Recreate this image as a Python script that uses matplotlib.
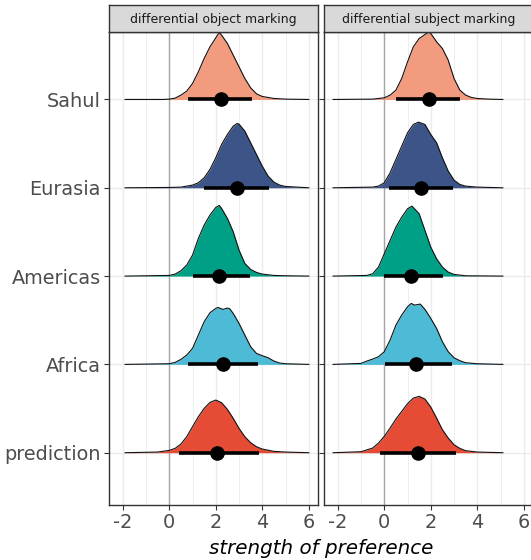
import matplotlib
matplotlib.use("Agg")
import matplotlib.pyplot as plt

regions = ["prediction", "Africa", "Americas", "Eurasia", "Sahul"]
colors = ["#E64B35", "#4DBBD5", "#00A087", "#3C5488", "#F39B7F"]
facets = ["differential object marking", "differential subject marking"]
xticks = [-2, 0, 2, 4, 6]

# density heights (arbitrary units), per facet and region
# differential object marking
dom_x = {
    "Sahul": [-1.9, -0.25, 0, 0.25, 0.5, 0.75, 1.0, 1.25, 1.5, 1.75, 2.0, 2.15, 2.25, 2.5, 2.75, 3.0, 3.25, 3.5, 3.75, 4.0, 4.5, 5.0, 6.0],
    "Eurasia": [-1.9, 0, 0.5, 1.0, 1.25, 1.5, 1.75, 2.0, 2.25, 2.5, 2.75, 2.92, 3.0, 3.25, 3.5, 3.75, 4.0, 4.25, 4.5, 4.75, 5.0, 6.0],
    "Americas": [-1.9, 0, 0.25, 0.5, 0.75, 1.0, 1.25, 1.5, 1.75, 2.0, 2.15, 2.25, 2.5, 2.75, 3.0, 3.25, 3.5, 3.75, 4.0, 4.5, 5.0, 6.0],
    "Africa": [-1.9, 0, 0.25, 0.5, 0.75, 1.0, 1.25, 1.5, 1.75, 2.0, 2.1, 2.3, 2.5, 2.6, 2.75, 3.0, 3.25, 3.5, 3.75, 4.0, 4.25, 4.5, 4.75, 5.0, 6.0],
    "prediction": [-1.9, -0.5, 0, 0.25, 0.5, 0.75, 1.0, 1.25, 1.5, 1.75, 2.0, 2.25, 2.5, 2.75, 3.0, 3.25, 3.5, 3.75, 4.0, 4.5, 5.0, 6.0],
}
dom_d = {
    "Sahul": [0, 0, 1, 4, 13, 25, 48, 83, 123, 158, 185, 201, 193, 168, 133, 98, 63, 35, 17, 9, 3, 1, 0],
    "Eurasia": [0, 1, 2, 8, 15, 30, 55, 90, 130, 160, 185, 193, 191, 170, 135, 100, 65, 35, 17, 8, 4, 0],
    "Americas": [0, 2, 6, 16, 33, 63, 113, 153, 183, 206, 212, 203, 173, 133, 78, 38, 20, 11, 6, 2, 1, 0],
    "Africa": [0, 2, 6, 15, 28, 48, 88, 128, 155, 168, 171, 165, 169, 167, 153, 123, 88, 53, 33, 26, 20, 10, 4, 2, 0],
    "prediction": [0, 2, 7, 13, 26, 48, 78, 108, 133, 151, 158, 150, 130, 103, 73, 48, 30, 18, 11, 4, 2, 0],
}
# differential subject marking
dsm_x = {
    "Sahul": [-2.2, -0.5, 0, 0.25, 0.5, 0.75, 1.0, 1.25, 1.5, 1.75, 1.93, 2.0, 2.25, 2.5, 2.75, 3.0, 3.25, 3.5, 3.75, 4.0, 4.5, 5.1],
    "Eurasia": [-2.2, -0.5, -0.25, 0, 0.25, 0.5, 0.75, 1.0, 1.25, 1.47, 1.75, 2.0, 2.25, 2.5, 2.75, 3.0, 3.25, 3.5, 4.0, 5.1],
    "Americas": [-2.2, -0.75, -0.5, -0.25, 0, 0.25, 0.5, 0.75, 1.0, 1.19, 1.5, 1.75, 2.0, 2.25, 2.5, 2.75, 3.0, 3.5, 5.1],
    "Africa": [-2.2, -1.0, -0.75, -0.5, -0.25, 0, 0.25, 0.5, 0.75, 1.0, 1.16, 1.3, 1.55, 1.75, 2.0, 2.25, 2.5, 2.75, 3.0, 3.25, 3.5, 4.0, 5.1],
    "prediction": [-2.2, -1.0, -0.5, -0.25, 0, 0.25, 0.5, 0.75, 1.0, 1.25, 1.5, 1.75, 2.0, 2.25, 2.5, 2.75, 3.0, 3.25, 3.5, 4.0, 5.1],
}
dsm_d = {
    "Sahul": [0, 1, 5, 13, 28, 63, 113, 158, 183, 195, 203, 198, 173, 153, 118, 63, 28, 13, 6, 3, 1, 0],
    "Eurasia": [0, 2, 5, 15, 45, 85, 125, 165, 190, 197, 190, 160, 135, 90, 50, 23, 10, 5, 2, 0],
    "Americas": [0, 2, 7, 27, 67, 107, 147, 177, 202, 210, 187, 137, 87, 52, 27, 12, 5, 1, 0],
    "Africa": [0, 3, 10, 16, 23, 38, 73, 118, 148, 173, 183, 178, 181, 165, 138, 108, 68, 38, 20, 11, 5, 2, 0],
    "prediction": [0, 3, 14, 29, 49, 74, 101, 124, 147, 164, 169, 161, 137, 104, 69, 44, 24, 13, 6, 2, 0],
}

# point estimate and interval, order as in regions
dom_point = [2.06, 2.29, 2.12, 2.92, 2.22]
dom_lo = [0.43, 0.82, 1.03, 1.50, 0.79]
dom_hi = [3.86, 3.80, 3.47, 4.30, 3.57]
dsm_point = [1.44, 1.37, 1.16, 1.57, 1.92]
dsm_lo = [-0.20, 0.04, 0.00, 0.21, 0.52]
dsm_hi = [3.09, 2.90, 2.52, 2.97, 3.27]

SCALE = 1 / 265.0
W, H = 531, 560
fig = plt.figure(figsize=(W / 100, H / 100), dpi=100)

ax_l = 109.3
ax_w = 209.0
ax_top = 32
ax_bot = 505
lefts = [ax_l, 324.3]
panels = [(dom_x, dom_d, dom_point, dom_lo, dom_hi), (dsm_x, dsm_d, dsm_point, dsm_lo, dsm_hi)]

for k, (xs, ds, pt, lo, hi) in enumerate(panels):
    ax = fig.add_axes([lefts[k] / W, 1 - ax_bot / H, ax_w / W, (ax_bot - ax_top) / H])
    ax.set_xlim(-2.58, 6.41)
    ax.set_ylim(0.408, 5.764)
    for g in [-2, 0, 2, 4, 6]:
        ax.axvline(g, color="#EBEBEB", lw=1.0, zorder=0)
    for g in [-1, 1, 3, 5]:
        ax.axvline(g, color="#EBEBEB", lw=0.6, zorder=0)
    for i in range(len(regions)):
        ax.axhline(i + 1, color="#EBEBEB", lw=1.0, zorder=0)
    ax.axvline(0, color="#A6A6A6", lw=1.0, zorder=0.5)
    for i, r in enumerate(regions):
        base = i + 1
        top = [base + d * SCALE for d in ds[r]]
        ax.fill_between(xs[r], base, top, color=colors[i], lw=0, zorder=2 + i * 0.1)
        ax.plot(xs[r], top, color="#111111", lw=0.8, zorder=2.05 + i * 0.1)
        ax.plot([lo[i], hi[i]], [base, base], color="black", lw=2.6,
                solid_capstyle="butt", zorder=3)
        ax.plot([pt[i]], [base], "o", color="black", ms=9.5, zorder=3.5)
    ax.set_xticks(xticks)
    ax.set_xticklabels([str(t) for t in xticks])
    ax.set_yticks(range(1, len(regions) + 1))
    if k == 0:
        ax.set_yticklabels(regions)
    else:
        ax.set_yticklabels([])
        ax.tick_params(axis="y", length=0)
    ax.tick_params(labelsize=13.9, labelcolor="#4D4D4D", color="#333333",
                   length=3.5, width=0.8, pad=2.5)
    for s in ax.spines.values():
        s.set_color("#333333")
        s.set_linewidth(1.0)

    st = fig.add_axes([lefts[k] / W, 1 - ax_top / H, ax_w / W, 27 / H])
    st.set_facecolor("#D9D9D9")
    st.set_xticks([])
    st.set_yticks([])
    for s in st.spines.values():
        s.set_color("#333333")
        s.set_linewidth(1.0)
    st.text(0.5, 0.48, facets[k], ha="center", va="center", fontsize=9.0,
            color="#1A1A1A", transform=st.transAxes)

fig.text(321 / W, 1 - 549 / H, "strength of preference", ha="center", va="center",
         fontsize=14.3, style="italic", color="black")

fig.savefig("out.png", dpi=100)
